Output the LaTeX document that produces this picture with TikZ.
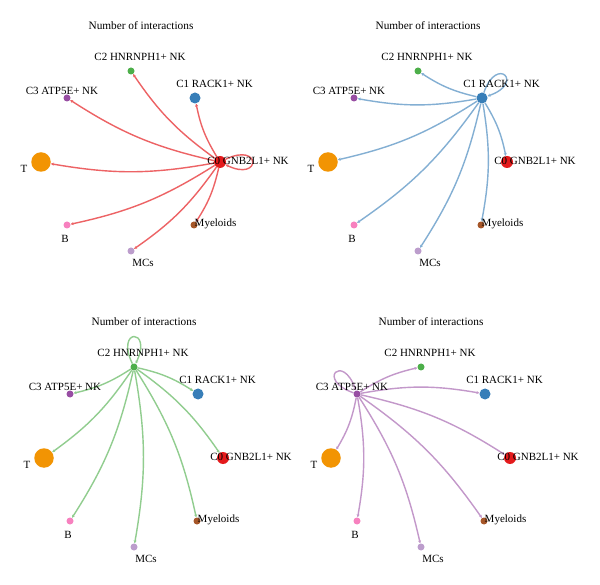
\documentclass[tikz,border=0pt]{standalone}
\usepackage{fontspec}
\setmainfont{Liberation Serif}
\usetikzlibrary{arrows.meta}
\definecolor{cC0}{HTML}{E41A1C}
\definecolor{cC1}{HTML}{377EB8}
\definecolor{cC2}{HTML}{4DAF4A}
\definecolor{cC3}{HTML}{984EA3}
\definecolor{cT}{HTML}{F29403}
\definecolor{cB}{HTML}{F781BF}
\definecolor{cMC}{HTML}{BC9DCC}
\definecolor{cMy}{HTML}{A65628}
\colorlet{eRed}{cC0!68!white}
\colorlet{eBlue}{cC1!62!white}
\colorlet{eGreen}{cC2!62!white}
\colorlet{ePurple}{cC3!58!white}
\tikzset{
  dot/.style={circle, inner sep=0pt, draw=none},
  lab/.style={font=\fontsize{11}{13}\selectfont, inner sep=0pt, text=black},
  ttl/.style={font=\fontsize{11.3}{13}\selectfont, inner sep=0pt, text=black},
  netedge/.style={line width=1.4pt, -{Stealth[length=3pt,width=3pt]}, bend left=10},
  loopedge/.style={line width=1.4pt, -{Stealth[length=3pt,width=3pt]}, min distance=40pt}
}
\newcommand\netpanel[7]{%
  \begin{scope}[shift={(#2,#3)}]
    \node[ttl] (#1ttl) at (141,26) {Number of interactions};
    \node[dot,fill=cC0,minimum size=12pt] (#1C0) at (220,162) {};
    \node[dot,fill=cC1,minimum size=11pt] (#1C1) at (195,98) {};
    \node[dot,fill=cC2,minimum size=7pt] (#1C2) at (131,71) {};
    \node[dot,fill=cC3,minimum size=7pt] (#1C3) at (67,98) {};
    \node[dot,fill=cT,minimum size=19.5pt] (#1T) at (41,162) {};
    \node[dot,fill=cB,minimum size=7pt] (#1B) at (67,225) {};
    \node[dot,fill=cMC,minimum size=7pt] (#1MCs) at (131,251) {};
    \node[dot,fill=cMy,minimum size=7pt] (#1My) at (194,225) {};
    \def\srcnode{#5}%
    \foreach \tgt in {C0,C1,C2,C3,T,B,MCs,My}{%
      \ifx\tgt\srcnode\else
        \draw[netedge,draw=#4] (#1#5) to (#1\tgt);
      \fi
    }
    \draw[loopedge,draw=#4] (#1#5) to[out=#6,in=#7] (#1#5);
    \node[lab] (#1C0l) at (248,161) {C0 GNB2L1+ NK};
    \node[lab] (#1C1l) at (214.5,84) {C1 RACK1+ NK};
    \node[lab] (#1C2l) at (140,57) {C2 HNRNPH1+ NK};
    \node[lab] (#1C3l) at (62,91) {C3 ATP5E+ NK};
    \node[lab] (#1Tl) at (24,169) {T};
    \node[lab] (#1Bl) at (65,239) {B};
    \node[lab] (#1MCsl) at (143,263) {MCs};
    \node[lab] (#1Myl) at (215.5,224) {Myeloids};
  \end{scope}%
}
\begin{document}
\begin{tikzpicture}[x=1pt,y=-1pt]
  \useasboundingbox (0,0) rectangle (600,585);
  \fill[white] (0,0) rectangle (600,585);
  \netpanel{a}{0}{0}{eRed}{C0}{26}{-26}
  \netpanel{b}{287}{0}{eBlue}{C1}{71}{19}
  \netpanel{c}{3}{296}{eGreen}{C2}{116}{64}
  \netpanel{d}{290}{296}{ePurple}{C3}{161}{109}
\end{tikzpicture}
\end{document}
